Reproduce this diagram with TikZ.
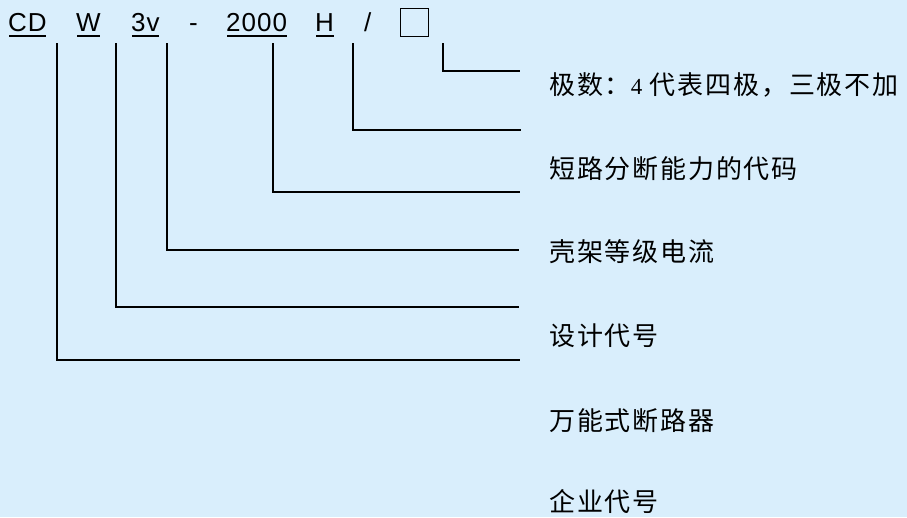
\documentclass[tikz,border=0pt]{standalone}
\usepackage{fontspec}
\setmainfont{Liberation Sans}
\newfontfamily\cjk[LetterSpace=7]{Noto Sans CJK SC}
\newfontfamily\lat[LetterSpace=4]{Liberation Sans}
\newfontfamily\serifnum{Liberation Serif}
\usetikzlibrary{calc}
\definecolor{bg}{RGB}{217,238,252}
\begin{document}
\begin{tikzpicture}[x=1pt,y=-1pt,
  tok/.style={font=\lat\fontsize{26}{30}\selectfont, inner sep=0pt, anchor=base west},
  lbl/.style={font=\cjk\fontsize{26}{30}\selectfont, inner sep=0pt, anchor=west},
  uline/.style={line width=1.6pt},
  conn/.style={line width=2.2pt},
]
\fill[bg] (0,0) rectangle (907,517);
\useasboundingbox (0,0) rectangle (907,517);

% top code row
\node[tok] (cd) at (8,31) {CD};
\node[tok] (w) at (76,31) {W};
\node[tok] (v) at (131,31) {3v};
\node[tok] (dash) at (189,31) {-};
\node[tok] (n) at (226,31) {2000};
\node[tok] (h) at (315,31) {H};
\node[tok] (sl) at (364,31) {/};
\node[draw, line width=1.4pt, minimum size=28pt, inner sep=0pt] (box) at (414.5,22.5) {};

\foreach \t in {cd,w,v,n,h}
  \draw[uline] ($(\t.base west)+(1,5)$) -- ($(\t.base east)+(-0.5,5)$);

% stems and ends
\coordinate (s1) at (57,43);  \coordinate (e1) at (520,360);
\coordinate (s2) at (116,43); \coordinate (e2) at (519,307);
\coordinate (s3) at (167,43); \coordinate (e3) at (519,250);
\coordinate (s4) at (273,43); \coordinate (e4) at (520,192);
\coordinate (s5) at (353,43); \coordinate (e5) at (521,130);
\coordinate (s6) at (443,43); \coordinate (e6) at (520,71);

\foreach \i in {1,...,6}
  \draw[conn] (s\i) |- (e\i);

% labels
\node[lbl] (l1) at (549,85) {极数：{\serifnum\fontsize{23}{26}\selectfont 4} 代表四极，三极不加};
\node[lbl] (l2) at (549,168.5) {短路分断能力的代码};
\node[lbl] (l3) at (549,251.5) {壳架等级电流};
\node[lbl] (l4) at (549,336) {设计代号};
\node[lbl] (l5) at (549,421) {万能式断路器};
\node[lbl] (l6) at (549,502) {企业代号};
\end{tikzpicture}
\end{document}
